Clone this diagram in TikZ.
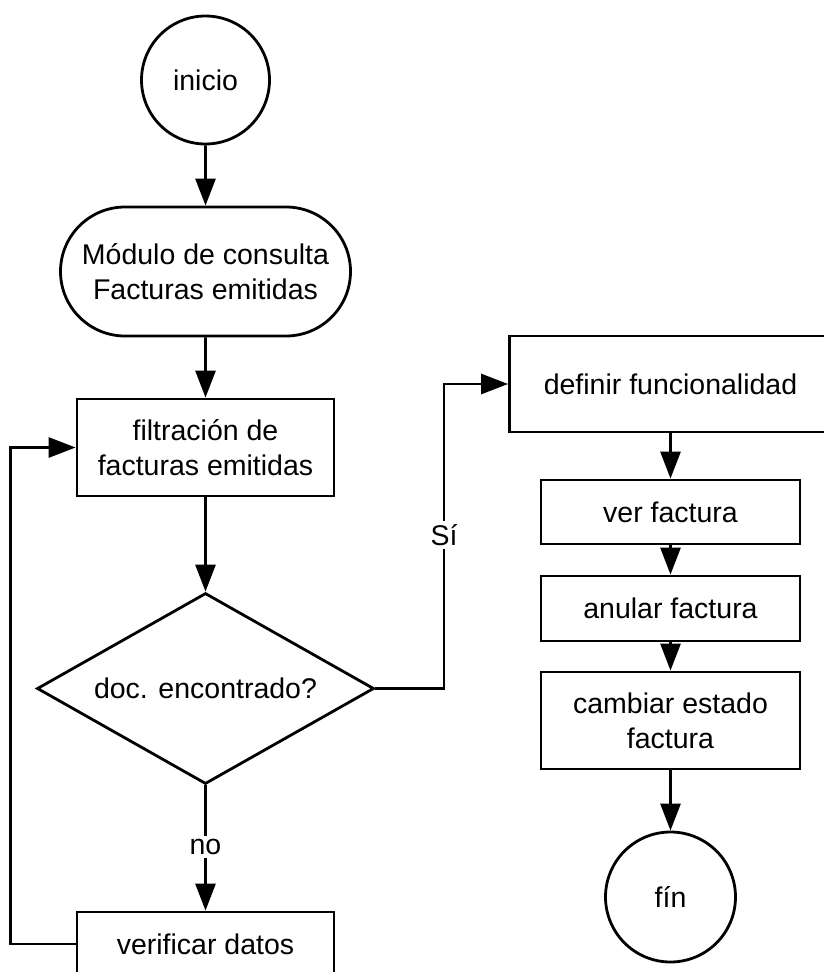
\documentclass[tikz,border=0pt]{standalone}
\usepackage{fontspec}
\setmainfont{Liberation Sans}
\usetikzlibrary{arrows.meta,shapes.geometric,shapes.misc}
\begin{document}
\begin{tikzpicture}[x=1pt,y=-1pt,line width=2.8pt,
  every node/.style={font=\fontsize{28.5}{35}\selectfont, align=center},
  box/.style={draw, rectangle, inner sep=0pt},
  termc/.style={draw, circle, inner sep=0pt},
  stad/.style={draw, rounded rectangle, inner sep=0pt, minimum width=290pt, minimum height=129pt},
  dia/.style={draw, diamond, inner sep=0pt, aspect=1.76, minimum width=337pt, minimum height=191pt},
  arr/.style={-{Triangle[length=27pt,width=20pt]}},
  lbl/.style={fill=white, inner sep=3pt}]
\useasboundingbox (0,0) rectangle (824,972);
\clip (0,0) rectangle (824,972);
\fill[white] (0,0) rectangle (824,972);

\node[termc, minimum size=128pt] (ini) at (205.5,80) {inicio};
\node[stad] (mod) at (205.5,271.5) {Módulo de consulta\\Facturas emitidas};
\node[box, minimum width=257pt, minimum height=97pt] (filt) at (205.5,447.5) {filtración de\\facturas emitidas};
\node[dia] (dec) at (205.5,688.5) {doc. encontrado?};
\node[box, minimum width=257pt, minimum height=64pt] (verif) at (205.5,944) {verificar datos};

\node[box, minimum width=322pt, minimum height=96pt] (def) at (670.5,384) {definir funcionalidad};
\node[box, minimum width=259pt, minimum height=64pt] (vf) at (670.5,512) {ver factura};
\node[box, minimum width=259pt, minimum height=65pt] (an) at (670.5,608.5) {anular factura};
\node[box, minimum width=259pt, minimum height=97pt] (cam) at (670.5,720.5) {cambiar estado\\factura};
\node[termc, minimum size=130pt] (fin) at (670.5,897) {fín};

\draw[arr] (ini) -- (mod);
\draw[arr] (mod) -- (filt);
\draw[arr] (filt) -- (dec);
\draw[arr] (dec.south) -- (verif.north) node[lbl, pos=0.49] {no};
\draw[arr] (verif.west) -- ++(-65,0) |- (filt.west);
\coordinate (sj) at (444,688.5);
\draw[arr] (dec.east) -- (sj) |- (def.west);
\node[lbl] (si) at (444,535) {Sí};
\draw[arr] (def.south -| vf.north) -- (vf.north);
\draw[arr] (vf) -- (an);
\draw[arr] (an) -- (cam);
\draw[arr] (cam) -- (fin);
\end{tikzpicture}
\end{document}
